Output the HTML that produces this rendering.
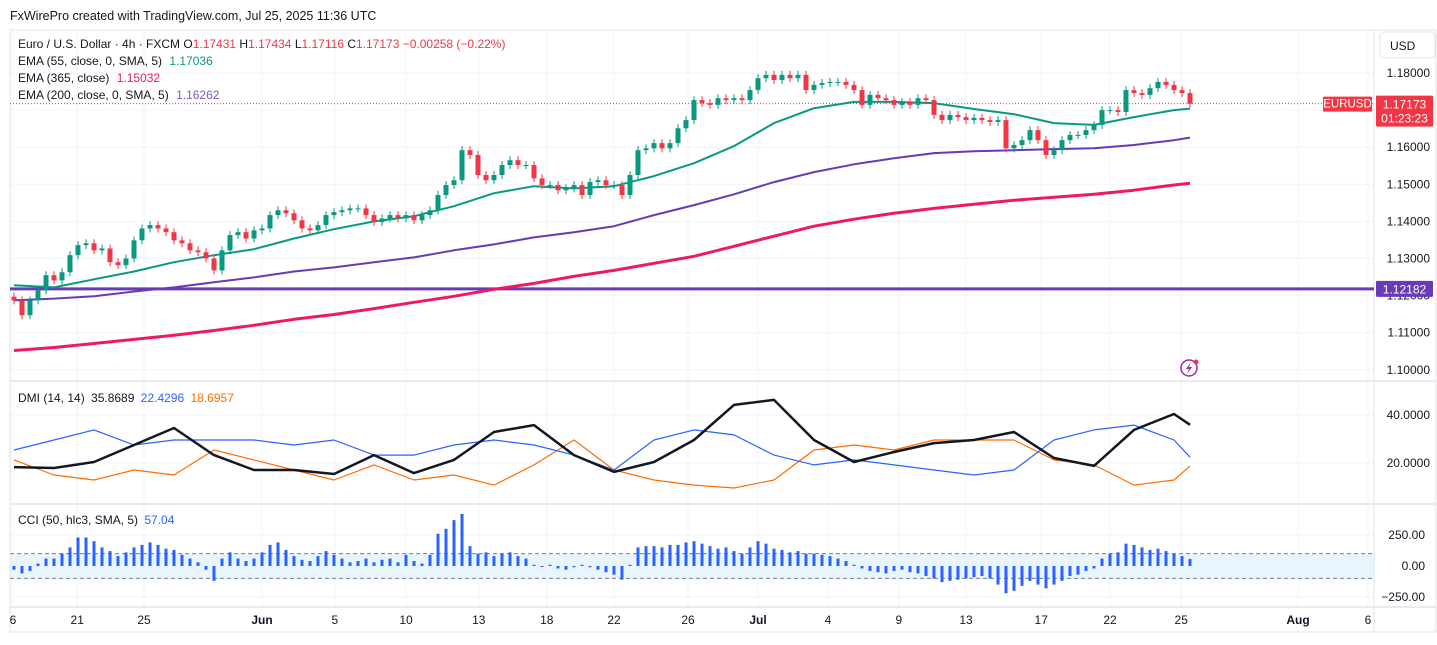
<!DOCTYPE html>
<html><head><meta charset="utf-8">
<style>
html,body{margin:0;padding:0;background:#fff;}
body{width:1437px;height:640px;overflow:hidden;font-family:"Liberation Sans",sans-serif;}
svg text{font-family:"Liberation Sans",sans-serif;}
</style></head>
<body>
<svg id="chart" width="1437" height="640" xmlns="http://www.w3.org/2000/svg">
<rect x="0" y="0" width="1437" height="640" fill="#fff"/>
<text x="10" y="20" font-size="12.5" fill="#131722">FxWirePro created with TradingView.com, Jul 25, 2025 11:36 UTC</text>
<g id="grid"></g>
<g id="panes"></g>
<g id="marks"></g>
<g id="overlay"></g>
</svg>
<script>
// ---------- DATA ----------
const closes = [1.1187,1.1147,1.1187,1.1214,1.1255,1.1241,1.1263,1.1309,1.1336,1.1341,1.1322,1.1327,1.1290,1.1282,1.1300,1.1349,1.1381,1.1390,1.1381,1.1371,1.1349,1.1341,1.1322,1.1317,1.1300,1.1268,1.1322,1.1363,1.1371,1.1354,1.1376,1.1381,1.1417,1.1430,1.1422,1.1403,1.1381,1.1376,1.1390,1.1417,1.1425,1.1430,1.1435,1.1435,1.1417,1.1398,1.1408,1.1417,1.1408,1.1417,1.1403,1.1417,1.1430,1.1471,1.1498,1.1511,1.1592,1.1579,1.1525,1.1511,1.1525,1.1552,1.1565,1.1552,1.1552,1.1516,1.1498,1.1498,1.1484,1.1489,1.1498,1.1471,1.1506,1.1511,1.1498,1.1498,1.1471,1.1525,1.1592,1.1597,1.1611,1.1597,1.1611,1.1651,1.1673,1.1727,1.1719,1.1714,1.1732,1.1727,1.1732,1.1727,1.1754,1.1786,1.1795,1.1781,1.1795,1.1786,1.1795,1.1754,1.1768,1.1773,1.1776,1.1776,1.1768,1.1754,1.1714,1.1741,1.1732,1.1727,1.1714,1.1722,1.1714,1.1732,1.1727,1.1687,1.1673,1.1687,1.1681,1.1673,1.1679,1.1673,1.1668,1.1673,1.1597,1.1606,1.1619,1.1646,1.1619,1.1579,1.1592,1.1619,1.1633,1.1633,1.1646,1.1660,1.1700,1.1700,1.1695,1.1754,1.1746,1.1741,1.1759,1.1776,1.1768,1.1754,1.1746,1.1717];
const ema55 = [1.1228,1.1222,1.1244,1.1265,1.1290,1.1309,1.1325,1.1354,1.1379,1.1400,1.1414,1.1441,1.1476,1.1495,1.1489,1.1495,1.1522,1.1557,1.1603,1.1665,1.1705,1.1722,1.1722,1.1719,1.1703,1.1689,1.1665,1.1660,1.1681,1.1700,1.1704];
const ema200 = [1.1187,1.1192,1.1198,1.1211,1.1222,1.1236,1.1249,1.1265,1.1276,1.1290,1.1303,1.1322,1.1338,1.1357,1.1371,1.1387,1.1417,1.1444,1.1473,1.1506,1.1533,1.1554,1.1570,1.1584,1.1589,1.1592,1.1595,1.1597,1.1606,1.1619,1.1626];
const ema365 = [1.1052,1.1060,1.1071,1.1082,1.1093,1.1106,1.1120,1.1136,1.1149,1.1165,1.1182,1.1198,1.1217,1.1233,1.1252,1.1268,1.1287,1.1306,1.1333,1.1360,1.1387,1.1406,1.1422,1.1435,1.1446,1.1457,1.1465,1.1473,1.1484,1.1498,1.1503];
const adx = [18.3,17.9,20.4,27.5,34.6,23.3,17.1,17.1,15.4,23.3,15.8,21.3,32.9,35.8,23.3,16.3,20.4,29.6,44.2,46.3,29.6,20.4,24.6,28.3,29.6,32.9,22.1,18.8,33.8,40.4,35.9];
const diPlus = [25.4,29.6,33.8,27.5,29.6,29.6,29.6,27.5,29.6,23.3,23.3,27.5,29.6,27.5,23.3,17.1,29.6,33.8,31.7,23.3,19.2,21.3,19.2,17.1,15.0,17.1,29.6,33.8,35.8,29.6,22.4];
const diMinus = [21.3,15.0,12.9,17.1,15.0,25.4,21.3,17.1,12.9,19.2,12.9,15.0,10.8,19.2,29.6,17.1,12.9,10.8,9.6,12.9,25.4,27.5,25.4,29.6,29.6,29.6,21.3,19.2,10.8,12.9,18.7];
const cci = [-30,-60,-40,20,60,60,100,150,230,230,200,150,120,80,110,150,170,190,170,140,130,90,60,30,-30,-120,60,110,60,40,60,110,170,190,130,80,50,40,80,120,90,60,30,40,60,30,50,60,30,90,40,20,90,260,300,370,420,160,100,110,80,100,110,80,60,10,0,10,-20,-30,-10,10,-10,-30,-50,-70,-110,10,150,160,160,150,170,170,190,200,180,160,140,150,120,100,150,200,180,140,130,110,120,100,100,90,80,60,40,10,-20,-40,-50,-60,-40,-30,-50,-60,-80,-100,-130,-120,-110,-100,-90,-80,-100,-150,-220,-200,-160,-120,-150,-180,-150,-120,-80,-70,-40,-20,60,100,110,180,170,150,130,140,120,100,80,57];
const dateLabels = ["6","21","25","Jun","5","10","13","18","22","26","Jul","4","9","13","17","22","25","Aug","6"];
const dateBars = [-0.25,7.9,16.25,31,40.1,49,58.1,66.6,75,84.25,93,101.75,110.6,119,128.4,137,145.9,160.5,169.25];
const priceTicks = [1.10,1.11,1.12,1.13,1.14,1.15,1.16,1.17,1.18];
const dmiTicks = [20,40];
const cciTicks = [-250,0,250];
const hLineLevel = 1.12182;
const lastPrice = 1.17173;
const emaStep = 5;

// ---------- SCALES ----------
const NS='http://www.w3.org/2000/svg';
const PL=10, PR=1372;
const xS = i => 14 + i*8;
const yP = v => 73 + (1.18 - v)*3710;
const yD = v => 463 - (v-20)*2.4;
const yC = v => 566 - v*0.124;
const emaIdx = k => Math.min(k*emaStep, closes.length-1);

function el(tag, attrs, parent){const e=document.createElementNS(NS,tag);for(const k in attrs)e.setAttribute(k,attrs[k]);(parent||document.getElementById('marks')).appendChild(e);return e;}
const grid=document.getElementById('grid'), panes=document.getElementById('panes'), ov=document.getElementById('overlay');

// frame
let fr=el('rect',{x:10,y:30,width:1426,height:602,fill:'none',stroke:'#e0e3eb'},panes);


[381,504,607].forEach(y=>{let l=el('line',{x1:10,x2:1436,y1:y,y2:y,stroke:'#e0e3eb','stroke-width':1.5},panes);

});
let ax=el('line',{x1:1374,x2:1374,y1:30,y2:632,stroke:'#e0e3eb'},panes);



// vertical grid + date labels
dateLabels.forEach((lab,i)=>{
  const x=xS(dateBars[i]);
  const g=el('line',{x1:x,x2:x,y1:30,y2:607,stroke:'#f0f3fa'},grid);
  
  
  const bold = (lab==='Jun'||lab==='Jul'||lab==='Aug');
  const t=el('text',{x:Math.max(x,13),y:624,'font-size':12,'text-anchor':'middle',fill:'#131722','font-weight':bold?'bold':'normal'},panes);
  t.textContent=lab;
  
  
});
// price grid
priceTicks.forEach(v=>{
  const y=yP(v);
  const g=el('line',{x1:PL,x2:1374,y1:y,y2:y,stroke:'#f0f3fa'},grid);
  
  
  const t=el('text',{x:1430,y:y+4,'font-size':12,'text-anchor':'end',fill:'#131722'},panes);
  t.textContent=v.toFixed(5);
  
  
});
dmiTicks.forEach(v=>{
  const y=yD(v);
  const g=el('line',{x1:PL,x2:1374,y1:y,y2:y,stroke:'#f0f3fa'},grid);
  
  
  const t=el('text',{x:1430,y:y+4,'font-size':12,'text-anchor':'end',fill:'#131722'},panes);
  t.textContent=v.toFixed(4);
  
  
});
cciTicks.forEach(v=>{
  const y=yC(v);
  const g=el('line',{x1:PL,x2:1374,y1:y,y2:y,stroke:'#f0f3fa'},grid);
  
  
  const t=el('text',{x:1425,y:y+4,'font-size':12,'text-anchor':'end',fill:'#131722'},panes);
  t.textContent=(v<0?'\u2212'+Math.abs(v).toFixed(2):v.toFixed(2));
  
  
});
// CCI band
let band=el('rect',{x:PL,y:yC(100),width:1364,height:yC(-100)-yC(100),fill:'#e3f2fd',opacity:0.8},grid);


[100,-100].forEach(v=>{let l=el('line',{x1:PL,x2:1374,y1:yC(v),y2:yC(v),stroke:'#787b86','stroke-dasharray':'4,3'},grid);

});

// horizontal support line
let hl=el('line',{x1:PL,x2:1374,y1:yP(hLineLevel),y2:yP(hLineLevel),stroke:'#673ab7','stroke-width':3});


// last price dotted
let lp=el('line',{x1:PL,x2:1374,y1:yP(lastPrice),y2:yP(lastPrice),stroke:'#f23645','stroke-dasharray':'1,2','stroke-width':1});



// EMA lines
function emaPath(arr,color,w,name){
  const pts=arr.map((v,k)=>xS(emaIdx(k))+','+yP(v).toFixed(1)).join(' ');
  const p=el('polyline',{points:pts,fill:'none',stroke:color,'stroke-width':w,'stroke-linejoin':'round'});
  
  
}
emaPath(ema365,'#f0195f',3,'ema-365-line');
emaPath(ema200,'#673ab7',2,'ema-200-line');
emaPath(ema55,'#089981',2,'ema-55-line');

// candles
closes.forEach((c,i)=>{
  const o = i===0 ? c+0.0010 : closes[i-1];
  const up = c>=o, col = up?'#089981':'#f23645';
  const x=xS(i);
  const top=yP(Math.max(o,c)), bot=yP(Math.min(o,c));
  const w=el('line',{x1:x,x2:x,y1:top-4,y2:bot+4,stroke:col,'stroke-width':1});
  
  
  const b=el('rect',{x:x-2.5,y:top,width:5,height:Math.max(1,bot-top),fill:col});
  
  
});

// DMI
function dmiPath(arr,color,w,name){
  const pts=arr.map((v,k)=>xS(emaIdx(k))+','+yD(v).toFixed(1)).join(' ');
  const p=el('polyline',{points:pts,fill:'none',stroke:color,'stroke-width':w,'stroke-linejoin':'round'});
  
  
}
dmiPath(diMinus,'#ff6d00',1.2,'di-minus-line');
dmiPath(diPlus,'#2962ff',1.2,'di-plus-line');
dmiPath(adx,'#131722',2.5,'adx-line');

// CCI histogram
cci.forEach((v,i)=>{
  const x=xS(i), y0=yC(0), y=yC(v);
  const r=el('rect',{x:x-1.5,y:Math.min(y,y0),width:3,height:Math.max(1,Math.abs(y-y0)),fill:'#2962ff'});
  
  
});

// labels / legends
function txt(x,y,s,col,size,name,anchor,weight){const t=el('text',{x:x,y:y,'font-size':size||12,fill:col||'#131722','text-anchor':anchor||'start','font-weight':weight||'normal'},ov);t.textContent=s;

return t;}
const lg=el('text',{x:18,y:48,'font-size':12,fill:'#131722'},ov);


lg.innerHTML='Euro / U.S. Dollar · 4h · FXCM  O<tspan fill="#f23645">1.17431</tspan>  H<tspan fill="#f23645">1.17434</tspan>  L<tspan fill="#f23645">1.17116</tspan>  C<tspan fill="#f23645">1.17173  −0.00258 (−0.22%)</tspan>';
lg.setAttribute('xml:space','preserve');
const l2=el('text',{x:18,y:65,'font-size':12,fill:'#131722'},ov);
l2.innerHTML='EMA (55, close, 0, SMA, 5) <tspan fill="#089981" dx="4">1.17036</tspan>';


const l3=el('text',{x:18,y:82,'font-size':12,fill:'#131722'},ov);
l3.innerHTML='EMA (365, close) <tspan fill="#f0195f" dx="4">1.15032</tspan>';


const l4=el('text',{x:18,y:99,'font-size':12,fill:'#131722'},ov);
l4.innerHTML='EMA (200, close, 0, SMA, 5) <tspan fill="#7e57c2" dx="4">1.16262</tspan>';


const l5=el('text',{x:18,y:402,'font-size':12,fill:'#131722'},ov);
l5.innerHTML='DMI (14, 14) <tspan dx="3">35.8689</tspan> <tspan fill="#2962ff" dx="3">22.4296</tspan> <tspan fill="#ff6d00" dx="3">18.6957</tspan>';


const l6=el('text',{x:18,y:524,'font-size':12,fill:'#131722'},ov);
l6.innerHTML='CCI (50, hlc3, SMA, 5) <tspan fill="#2962ff" dx="3">57.04</tspan>';



// USD box
let ub=el('rect',{x:1380,y:32,width:55,height:26,rx:4,fill:'#fff',stroke:'#e0e3eb'},ov);


txt(1390,50,'USD','#131722',12,'currency-label');
// EURUSD tag + price box
const yl=yP(lastPrice);
let et=el('rect',{x:1323,y:yl-7,width:49,height:15,fill:'#f23645',rx:1},ov);


txt(1347.5,yl+4,'EURUSD','#fff',11.5,'symbol-tag-text','middle');
let pb=el('rect',{x:1376,y:yl-8,width:57,height:31,fill:'#f23645',rx:1},ov);


txt(1404.5,yl+5,'1.17173','#fff',12,'last-price-text','middle');
txt(1404.5,yl+19,'01:23:23','#fff',12,'countdown-text','middle');
const yh=yP(hLineLevel);
let hb=el('rect',{x:1376,y:yh-8,width:57,height:16,fill:'#673ab7',rx:1},ov);


txt(1404.5,yh+4.5,'1.12182','#fff',12,'level-price-text','middle');
// lightning icon
let ic=el('circle',{cx:1189,cy:368,r:8,fill:'none',stroke:'#9c27b0','stroke-width':1.5},ov);


let bolt=el('path',{d:'M1191 362 L1186 369 L1189 369 L1187 374 L1192 367 L1189 367 Z',fill:'#9c27b0'},ov);


let dot=el('circle',{cx:1196,cy:362,r:2.5,fill:'#f23645'},ov);


</script>
</body></html>
